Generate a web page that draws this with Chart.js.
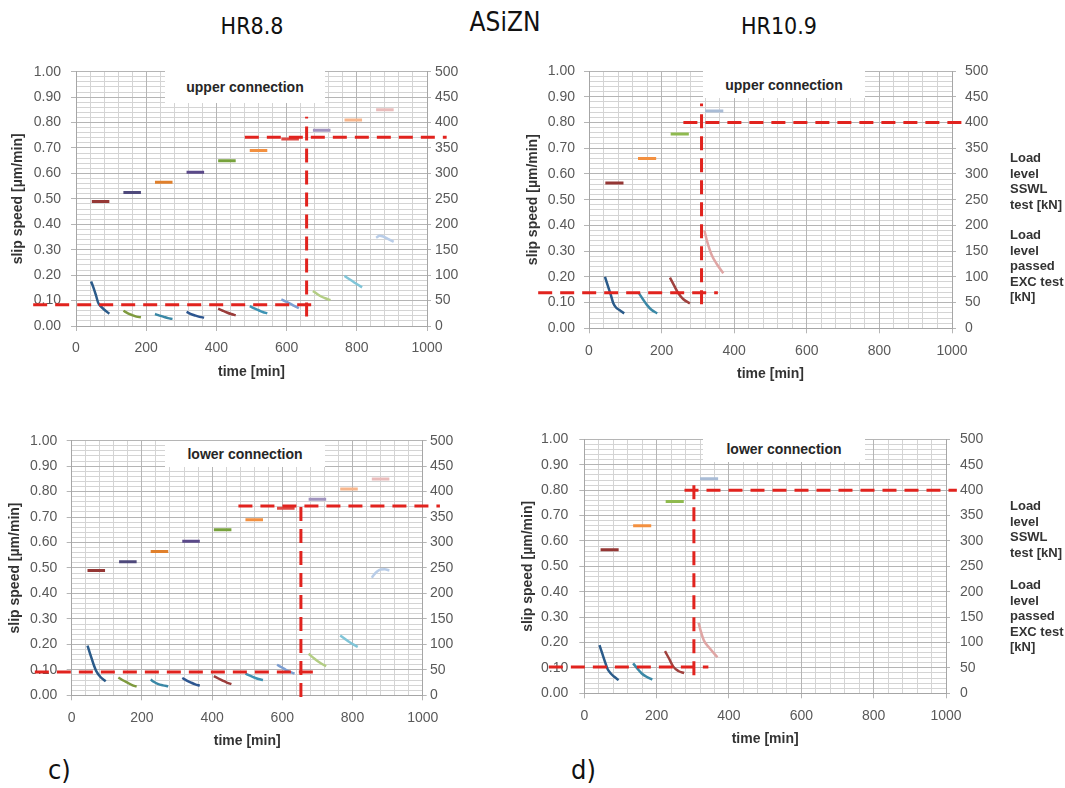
<!DOCTYPE html>
<html>
<head>
<meta charset="utf-8">
<title>Slip speed under stepped load – ASiZN</title>
<script src="https://cdn.jsdelivr.net/npm/chart.js@4.4.1/dist/chart.umd.min.js"></script>
<style>
  html, body { margin: 0; padding: 0; background: #fff; }
  body { width: 1065px; height: 788px; position: relative; overflow: hidden;
         font-family: "Liberation Sans", Arial, sans-serif; }
  canvas { position: absolute; }
  .hdr { position: absolute; font-family: "DejaVu Sans Condensed", "DejaVu Sans", sans-serif;
         font-size: 23px; color: #111; transform: translate(-50%, -50%); white-space: nowrap; }
  .tag { position: absolute; font-family: "DejaVu Sans Condensed", "DejaVu Sans", sans-serif;
         font-size: 27px; color: #111; white-space: nowrap; }
  .box { position: absolute; background: #fff; display: flex; align-items: center;
         justify-content: center; font-weight: bold; font-size: 14px; color: #262626; }
  .side { position: absolute; font-weight: bold; font-size: 13px; line-height: 15.5px;
          color: #333; white-space: nowrap; }
</style>
</head>
<body>
<div class="hdr" style="left:252px; top:26px;">HR8.8</div>
<div class="hdr" style="left:505px; top:22px; font-size:26px;">ASiZN</div>
<div class="hdr" style="left:779px; top:26px;">HR10.9</div>
<div class="tag" style="left:48px; top:754px;">c)</div>
<div class="tag" style="left:571px; top:754px;">d)</div>

<script>
// ---- hold steps of the SSWL test: start / end time [min] and load [kN] ----
const holdStart88  = [45, 135, 225, 315, 405, 495, 585, 675, 765, 855];
const holdEnd88    = [95, 185, 275, 365, 455, 545, 635, 725, 815, 905];
const loadSteps88  = [245, 262.5, 282.5, 302.5, 325, 345, 367.5, 385, 405, 425];

const holdStart109 = [45, 135, 225, 320];
const holdEnd109   = [95, 185, 275, 370];
const loadSteps109 = [282.5, 330, 377.5, 422.5];

// ---- measured slip speed [µm/min] per hold step: [time, speed] ----
const slipUpper88 = [
  [[43,0.175],[50,0.15],[57,0.12],[63,0.092],[70,0.078],[80,0.065],[95,0.048]],
  [[135,0.06],[148,0.05],[160,0.043],[172,0.037],[185,0.034]],
  [[225,0.047],[238,0.041],[250,0.036],[262,0.031],[275,0.028]],
  [[315,0.056],[328,0.047],[340,0.041],[352,0.036],[365,0.033]],
  [[405,0.068],[418,0.06],[430,0.053],[442,0.047],[455,0.042]],
  [[495,0.078],[508,0.069],[520,0.062],[532,0.055],[545,0.05]],
  [[585,0.105],[598,0.096],[610,0.088],[622,0.079],[635,0.07]],
  [[675,0.138],[688,0.125],[700,0.115],[712,0.108],[725,0.102]],
  [[765,0.197],[778,0.185],[790,0.174],[802,0.163],[815,0.152]],
  [[855,0.347],[865,0.355],[875,0.352],[890,0.342],[905,0.331]]
];
const slipLower88 = [
  [[45,0.195],[52,0.165],[58,0.14],[64,0.115],[70,0.095],[82,0.072],[97,0.055]],
  [[133,0.07],[147,0.058],[160,0.049],[172,0.04],[185,0.034]],
  [[225,0.062],[235,0.052],[245,0.045],[260,0.039],[275,0.035]],
  [[315,0.068],[328,0.058],[340,0.05],[352,0.043],[365,0.038]],
  [[405,0.075],[418,0.066],[430,0.058],[442,0.05],[455,0.044]],
  [[495,0.085],[508,0.077],[520,0.07],[532,0.064],[545,0.06]],
  [[585,0.12],[598,0.11],[610,0.1],[622,0.092],[635,0.085]],
  [[675,0.163],[688,0.148],[700,0.135],[712,0.124],[725,0.115]],
  [[765,0.235],[778,0.222],[790,0.21],[802,0.2],[815,0.19]],
  [[855,0.462],[862,0.475],[870,0.486],[880,0.494],[892,0.495],[905,0.49]]
];
const slipUpper109 = [
  [[44,0.2],[52,0.165],[60,0.13],[67,0.097],[75,0.08],[85,0.07],[97,0.058]],
  [[138,0.136],[150,0.11],[160,0.09],[172,0.072],[188,0.058]],
  [[223,0.197],[235,0.165],[246,0.136],[260,0.113],[278,0.097]],
  [[318,0.38],[325,0.34],[338,0.285],[352,0.25],[370,0.214]]
];
const slipLower109 = [
  [[42,0.19],[50,0.155],[57,0.125],[64,0.097],[72,0.08],[82,0.066],[95,0.052]],
  [[135,0.118],[147,0.097],[159,0.078],[172,0.065],[188,0.054]],
  [[223,0.166],[235,0.135],[246,0.105],[260,0.088],[276,0.08]],
  [[316,0.278],[322,0.245],[330,0.21],[345,0.18],[368,0.142]]
];

// ---- reference lines, one entry per panel (a, b, c, d) ----
const excPassedLoad = [42, 69, 46, 52];          // kN
const excLineFrom   = [-122, -140, -105, -98];   // min
const excLineTo     = [690, 355, 703, 343];      // min
const sswlLoad      = [371, 400, 372, 400];      // kN
const sswlLineFrom  = [481, 260, 475, 277];      // min
const sswlLineTo    = [1056, 1030, 1049, 1030];  // min
const limitTime     = [657, 310, 653, 303];      // min
const limitFrom     = [0.037, 0.093, -0.007, 0.071]; // µm/min
const limitTo       = [0.823, 0.874, 0.76, 0.822];   // µm/min

// ---- colours ----
const loadColors88  = ['#953735','#4f4a7c','#e0802c','#5b4a8a','#77a23c','#f39040','#de4a44','#a194bf','#f7b68c','#e9bcbb'];
const slipColors88  = ['#2b5b8a','#7e9a3e','#3a88a6','#2d5690','#9a3c3a','#3d93b4','#7d9fd2','#b3cd84','#80c5d8','#b9cde8'];
const loadColors109 = ['#953735','#f39040','#8fba4f','#a9bcd6'];
const slipColors109 = ['#2b5b8a','#3a88a6','#a0413e','#dfa5a4'];
const dashRed   = '#e1231e';
const gridMajor = '#b5b5b5';
const gridMinor = '#d4d4d4';
const tickColor = '#595959';
const axisColor = '#a6a6a6';

// ---- panel layout (canvas box and plot area in page pixels) ----
const layout = [
  { left: 0,   top: 50,  w: 480, h: 335, area: { l: 76,    r: 427,   t: 71.7,  b: 326   },
    yTitlePad: 9.6,  xTitlePad: 4.9, leftPad: 10, rightPad: 4,  title: 'upper connection',
    box: { l: 165, t: 71, w: 160, h: 32 } },
  { left: 505, top: 50,  w: 560, h: 335, area: { l: 589,   r: 952,   t: 71,    b: 328.3 },
    yTitlePad: 19.6, xTitlePad: 2.3, leftPad: 9,  rightPad: 9,  title: 'upper connection',
    box: { l: 703, t: 71, w: 162, h: 27 } },
  { left: 0,   top: 420, w: 480, h: 335, area: { l: 71.7,  r: 422.7, t: 440.7, b: 695.3 },
    yTitlePad: 6.6,  xTitlePad: 5.9, leftPad: 9.4, rightPad: 3.3, title: 'lower connection',
    box: { l: 165, t: 441, w: 160, h: 26 } },
  { left: 505, top: 420, w: 560, h: 335, area: { l: 584.3, r: 946,   t: 436,   b: 693.3 },
    yTitlePad: 14.3, xTitlePad: 7.3, leftPad: 11, rightPad: 10, title: 'lower connection',
    box: { l: 703, t: 436, w: 162, h: 26 } }
];

const panelData = [
  { start: holdStart88,  end: holdEnd88,  load: loadSteps88,  slip: slipUpper88,  lc: loadColors88,  sc: slipColors88 },
  { start: holdStart109, end: holdEnd109, load: loadSteps109, slip: slipUpper109, lc: loadColors109, sc: slipColors109 },
  { start: holdStart88,  end: holdEnd88,  load: loadSteps88,  slip: slipLower88,  lc: loadColors88,  sc: slipColors88 },
  { start: holdStart109, end: holdEnd109, load: loadSteps109, slip: slipLower109, lc: loadColors109, sc: slipColors109 }
];

const sideText = [null,
  { t1: 150, t2: 227 }, null,
  { t1: 498, t2: 577 }];

const pts = arr => arr.map(p => ({ x: p[0], y: p[1] }));
const tickFont = { family: 'Liberation Sans', size: 14 };
const titleFont = { family: 'Liberation Sans', size: 14, weight: 'bold' };

function dashed(data, axis) {
  return { data, yAxisID: axis, showLine: true, pointRadius: 0, borderColor: dashRed,
           borderWidth: 3, borderDash: [14, 8], clip: false, order: 0 };
}

function buildPanel(i) {
  const L = layout[i], D = panelData[i], A = L.area;
  const cv = document.createElement('canvas');
  cv.width = L.w; cv.height = L.h;
  cv.style.left = L.left + 'px'; cv.style.top = L.top + 'px';
  cv.style.width = L.w + 'px'; cv.style.height = L.h + 'px';
  document.body.appendChild(cv);

  const datasets = [];
  // EXC passed level, SSWL level and limit time (dashed red)
  datasets.push(dashed([{ x: excLineFrom[i], y: excPassedLoad[i] }, { x: excLineTo[i], y: excPassedLoad[i] }], 'y2'));
  datasets.push(dashed([{ x: sswlLineFrom[i], y: sswlLoad[i] }, { x: sswlLineTo[i], y: sswlLoad[i] }], 'y2'));
  datasets.push(dashed([{ x: limitTime[i], y: limitFrom[i] }, { x: limitTime[i], y: limitTo[i] }], 'y'));

  // load steps on the kN axis
  D.load.forEach((kN, k) => {
    datasets.push({ data: [{ x: D.start[k], y: kN }, { x: D.end[k], y: kN }], yAxisID: 'y2',
      showLine: true, pointRadius: 0, borderColor: D.lc[k], borderWidth: 3, order: 1 });
  });
  // slip speed curves
  D.slip.forEach((curve, k) => {
    datasets.push({ data: pts(curve), yAxisID: 'y', showLine: true, pointRadius: 0,
      borderColor: D.sc[k], borderWidth: 2.5, tension: 0.35, cubicInterpolationMode: 'monotone', order: 1 });
  });

  const leftW = A.l - L.left, rightW = L.left + L.w - A.r, bottomH = L.top + L.h - A.b;

  new Chart(cv, {
    type: 'scatter',
    data: { datasets },
    options: {
      responsive: false, animation: false, devicePixelRatio: 1,
      layout: { padding: { top: A.t - L.top, left: 0, right: 0, bottom: 0 } },
      plugins: { legend: { display: false }, tooltip: { enabled: false } },
      scales: {
        x: {
          type: 'linear', position: 'bottom', min: 0, max: 1000,
          ticks: { stepSize: 200, color: tickColor, font: tickFont, padding: 9, maxRotation: 0,
                   callback: v => String(v) },
          grid: { color: gridMajor, tickLength: 5 },
          border: { color: axisColor },
          title: { display: true, text: 'time [min]', color: '#333', font: titleFont,
                   padding: { top: 0, bottom: L.xTitlePad } },
          afterFit: s => { s.height = bottomH; }
        },
        xm: {
          type: 'linear', position: 'bottom', min: 0, max: 1000,
          ticks: { display: false, stepSize: 40 },
          grid: { color: gridMinor, drawTicks: false, z: -2 },
          border: { display: false },
          afterFit: s => { s.height = 0; }
        },
        y: {
          type: 'linear', position: 'left', min: 0, max: 1,
          ticks: { stepSize: 0.1, color: tickColor, font: tickFont, padding: L.leftPad,
                   callback: v => v.toFixed(2) },
          grid: { color: gridMajor, tickLength: 5 },
          border: { color: axisColor },
          title: { display: true, text: 'slip speed [µm/min]', color: '#333', font: titleFont,
                   padding: { top: L.yTitlePad, bottom: 0 } },
          afterFit: s => { s.width = leftW; }
        },
        ym: {
          type: 'linear', position: 'left', min: 0, max: 1,
          ticks: { display: false, stepSize: 0.02 },
          grid: { color: gridMinor, drawTicks: false, z: -2 },
          border: { display: false },
          afterFit: s => { s.width = 0; }
        },
        y2: {
          type: 'linear', position: 'right', min: 0, max: 500,
          ticks: { stepSize: 50, color: tickColor, font: tickFont, padding: L.rightPad,
                   callback: v => String(v) },
          grid: { drawOnChartArea: false, color: gridMajor, tickLength: 4 },
          border: { color: axisColor },
          afterFit: s => { s.width = rightW; }
        }
      }
    }
  });

  // chart heading inside the plot area
  const b = document.createElement('div');
  b.className = 'box';
  b.style.left = L.box.l + 'px'; b.style.top = L.box.t + 'px';
  b.style.width = L.box.w + 'px'; b.style.height = L.box.h + 'px';
  b.textContent = L.title;
  document.body.appendChild(b);

  // explanation of the right-hand axis
  const st = sideText[i];
  if (st) {
    const d1 = document.createElement('div');
    d1.className = 'side';
    d1.style.left = '1010px'; d1.style.top = st.t1 + 'px';
    d1.innerHTML = 'Load<br>level<br>SSWL<br>test [kN]';
    document.body.appendChild(d1);
    const d2 = document.createElement('div');
    d2.className = 'side';
    d2.style.left = '1010px'; d2.style.top = st.t2 + 'px';
    d2.innerHTML = 'Load<br>level<br>passed<br>EXC test<br>[kN]';
    document.body.appendChild(d2);
  }
}

for (let i = 0; i < 4; i++) buildPanel(i);
</script>
</body>
</html>
